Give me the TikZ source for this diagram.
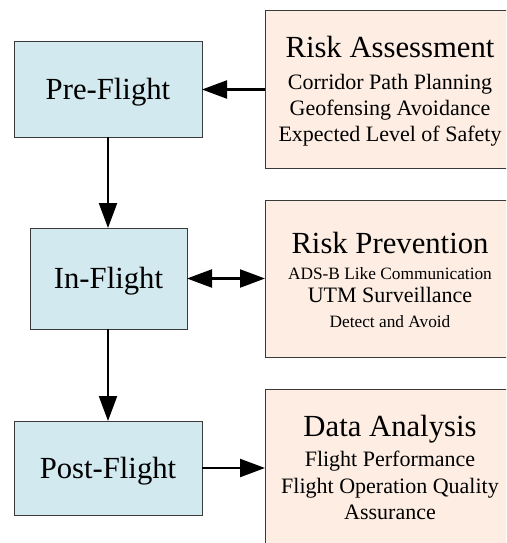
\documentclass[tikz,border=0pt]{standalone}
\usepackage{fontspec}
\setmainfont{Liberation Serif}
\usetikzlibrary{arrows.meta}

\definecolor{phaseblue}{HTML}{D2E9EF}
\definecolor{taskpeach}{HTML}{FDEDE3}
\definecolor{edgegray}{HTML}{3A3A3A}

\tikzset{
  phasebox/.style={draw=edgegray, line width=1pt, fill=phaseblue, anchor=north west,
    inner sep=0pt, outer sep=0pt, text height=20.3pt, text depth=0pt,
    font=\fontsize{30.7}{34}\selectfont},
  taskbox/.style={draw=edgegray, line width=1pt, fill=taskpeach, anchor=north west,
    inner sep=0pt, outer sep=0pt, minimum width=250pt, minimum height=157pt},
  headline/.style={anchor=base, inner sep=0pt, font=\fontsize{30.7}{34}\selectfont},
  bigline/.style={anchor=base, inner sep=0pt, font=\fontsize{22}{26}\selectfont},
  smallline/.style={anchor=base, inner sep=0pt, font=\fontsize{17.3}{20}\selectfont},
  bighead/.tip={Triangle[length=25pt,width=18pt]},
  flow/.style={line width=2.2pt, -bighead},
  flowboth/.style={line width=2.2pt, bighead-bighead},
}

\begin{document}
\begin{tikzpicture}[x=1pt,y=-1pt]
  \useasboundingbox (0,0) rectangle (506,543);
  \begin{scope}
  \clip (0,0) rectangle (506,543);

  % flight phases
  \node[phasebox, minimum width=188pt, minimum height=95pt] (pre) at (14,42) {Pre-Flight};
  \node[phasebox, minimum width=157pt, minimum height=101pt] (in) at (30,228) {In-Flight};
  \node[phasebox, minimum width=188pt, minimum height=94pt] (post) at (14,421) {Post-Flight};

  % supporting tasks
  \node[taskbox] (assess) at (265,11) {};
  \node[taskbox] (prevent) at (265,200) {};
  \node[taskbox, minimum height=160pt] (analysis) at (265,389) {};

  \node[headline] (assessT) at (390,58) {Risk Assessment};
  \node[bigline] (assess1) at (390,89) {Corridor Path Planning};
  \node[bigline] (assess2) at (390,115) {Geofensing Avoidance};
  \node[bigline] (assess3) at (390,141) {Expected Level of Safety};

  \node[headline] (preventT) at (390,253) {Risk Prevention};
  \node[smallline] (prevent1) at (390,279) {ADS-B Like Communication};
  \node[bigline] (prevent2) at (390,302) {UTM Surveillance};
  \node[smallline] (prevent3) at (390,327) {Detect and Avoid};

  \node[headline] (analysisT) at (390,436) {Data Analysis};
  \node[bigline] (analysis1) at (390,466) {Flight Performance};
  \node[bigline] (analysis2) at (390,493) {Flight Operation Quality};
  \node[bigline] (analysis3) at (390,519) {Assurance};
  \end{scope}

  % connectors
  \draw[flow] (assess.west |- pre.east) -- (pre.east);
  \draw[flow] (pre.south -| 108,0) -- (in.north -| 108,0);
  \draw[flowboth] (in.east) -- (in.east -| prevent.west);
  \draw[flow] (in.south -| 108,0) -- (post.north -| 108,0);
  \draw[flow] (post.east) -- (post.east -| analysis.west);
\end{tikzpicture}
\end{document}
